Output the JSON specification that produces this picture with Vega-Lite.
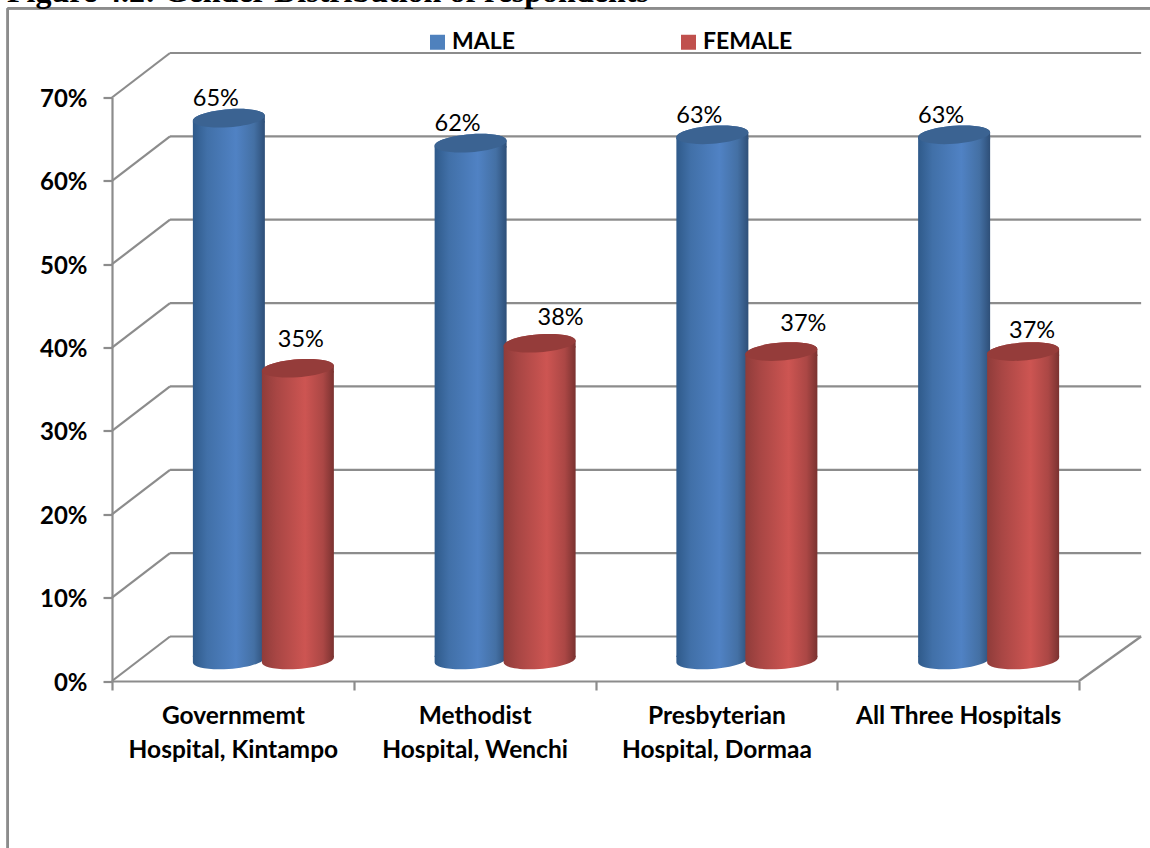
{
"$schema":"https://vega.github.io/schema/vega-lite/v6.json",
"width":967,"height":583.5,
"autosize":{"type":"none"},
"padding":{"left":112,"top":97.5,"right":71,"bottom":167},
"background":"white",
"title":{"text":"Figure 4.2: Gender Distribution of respondents","anchor":"start","frame":"group","dx":-105,"offset":-2,"font":"Liberation Serif","fontWeight":"bold","fontSize":32,"color":"#000000"},
"config":{"view":{"stroke":null}},
"datasets":{
"rows":[
{"hospital":"Governmemt Hospital, Kintampo","gender":"MALE","share":65},
{"hospital":"Governmemt Hospital, Kintampo","gender":"FEMALE","share":35},
{"hospital":"Methodist Hospital, Wenchi","gender":"MALE","share":62},
{"hospital":"Methodist Hospital, Wenchi","gender":"FEMALE","share":38},
{"hospital":"Presbyterian Hospital, Dormaa","gender":"MALE","share":63},
{"hospital":"Presbyterian Hospital, Dormaa","gender":"FEMALE","share":37},
{"hospital":"All Three Hospitals","gender":"MALE","share":63},
{"hospital":"All Three Hospitals","gender":"FEMALE","share":37}
],
"levels":[{"level":0},{"level":10},{"level":20},{"level":30},{"level":40},{"level":50},{"level":60},{"level":70}]
},
"resolve":{"scale":{"x":"independent"}},
"layer":[
{
"data":{"name":"levels"},
"encoding":{"x":{"datum":0,"type":"quantitative","scale":{"domain":[0,4],"nice":false,"zero":false},"axis":null}},
"layer":[
{"mark":{"type":"rule","stroke":"#8c8c8c","strokeWidth":2.2,"y2Offset":-44.5},
 "encoding":{"x2":{"datum":0.24},
  "y":{"field":"level","type":"quantitative","scale":{"domain":[0,70],"nice":false},
   "axis":{"title":null,"values":[0,10,20,30,40,50,60,70],"labelExpr":"datum.value+'%'","labelFont":"Lato","labelFontWeight":"bold","labelFontSize":24,"labelColor":"#000000","labelPadding":16,"labelOffset":2,"tickSize":9,"tickWidth":2.2,"tickColor":"#8c8c8c","domainColor":"#8c8c8c","domainWidth":2.2,"grid":false}},
  "y2":{"field":"level"}}},
{"mark":{"type":"rule","stroke":"#8c8c8c","strokeWidth":2.2,"yOffset":-44.5},
 "encoding":{"x":{"datum":0.24,"type":"quantitative"},"x2":{"datum":4.257},
  "y":{"field":"level","type":"quantitative","title":null}}},
{"transform":[{"filter":"datum.level===0"}],
 "mark":{"type":"rule","stroke":"#8c8c8c","strokeWidth":2.2,"y2Offset":-44.5},
 "encoding":{"x":{"datum":4,"type":"quantitative"},"x2":{"datum":4.257},
  "y":{"field":"level","type":"quantitative","title":null},"y2":{"field":"level"}}},
{"mark":{"type":"rule","stroke":"#8c8c8c","strokeWidth":2},
 "encoding":{"x":{"datum":-0.431,"type":"quantitative"},
  "y":{"datum":80.7,"type":"quantitative","title":null},"y2":{"datum":-25}}},
{"mark":{"type":"rule","stroke":"#8c8c8c","strokeWidth":2},
 "encoding":{"x":{"datum":-0.431,"type":"quantitative"},"x2":{"datum":4.35},
  "y":{"datum":80.7,"type":"quantitative","title":null}}}
]
},
{
"data":{"name":"rows"},
"encoding":{
 "x":{"field":"hospital","type":"nominal","sort":null,
  "scale":{"paddingInner":0,"paddingOuter":0},
  "axis":{"title":null,"labelAngle":0,"tickBand":"extent","tickSize":9,"tickWidth":2.2,"tickColor":"#8c8c8c","domainColor":"#8c8c8c","domainWidth":2.2,"labelFont":"Lato","labelFontWeight":"bold","labelFontSize":24.5,"labelColor":"#000000","labelPadding":14,"labelLineHeight":34,"labelLimit":300,
   "labelExpr":"indexof(datum.label,' Hospital,')>=0 ? [slice(datum.label,0,indexof(datum.label,' Hospital,')), slice(datum.label,indexof(datum.label,' Hospital,')+1)] : datum.label"}},
 "y":{"field":"share","type":"quantitative","title":null}
},
"layer":[
{"transform":[{"filter":"datum.gender==='MALE'"}],
 "layer":[
 {"mark":{"type":"bar","width":72,"xOffset":-4,"yOffset":-18,"y2Offset":-24,
   "fill":{"gradient":"linear","x1":0,"x2":1,"y1":0,"y2":0,"stops":[{"offset":0,"color":"#2f5a8a"},{"offset":0.2,"color":"#4170a8"},{"offset":0.6,"color":"#5082c4"},{"offset":0.85,"color":"#4470a4"},{"offset":1,"color":"#2e4f78"}]}},
  "encoding":{"y2":{"datum":0}}},
 {"mark":{"type":"point","filled":true,"opacity":1,"size":5184,"xOffset":-4,"yOffset":-21,
   "shape":"M1,-0.07 C1,0.068 0.552,0.211 0,0.25 C-0.552,0.289 -1,0.208 -1,0.07 L-1,-0.12 L1,-0.12 Z",
   "fill":{"gradient":"linear","x1":0,"x2":1,"y1":0,"y2":0,"stops":[{"offset":0,"color":"#2f5a8a"},{"offset":0.2,"color":"#4170a8"},{"offset":0.6,"color":"#5082c4"},{"offset":0.85,"color":"#4470a4"},{"offset":1,"color":"#2e4f78"}]}},
  "encoding":{"y":{"datum":0,"type":"quantitative","title":null}}},
 {"mark":{"type":"point","filled":true,"opacity":1,"size":5184,"xOffset":-4,"yOffset":-21,
   "shape":"M-1,0.07 C-1,-0.068 -0.552,-0.211 0,-0.25 C0.552,-0.289 1,-0.208 1,-0.07 L1,0.12 L-1,0.12 Z",
   "fill":{"gradient":"linear","x1":0,"x2":1,"y1":0,"y2":0,"stops":[{"offset":0,"color":"#2f5a8a"},{"offset":0.2,"color":"#4170a8"},{"offset":0.6,"color":"#5082c4"},{"offset":0.85,"color":"#4470a4"},{"offset":1,"color":"#2e4f78"}]}}},
 {"mark":{"type":"point","filled":true,"opacity":1,"size":5184,"xOffset":-4,"yOffset":-21,"fill":"#3b6392",
   "shape":"M1,-0.07 C1,0.068 0.552,0.211 0,0.25 C-0.552,0.289 -1,0.208 -1,0.07 C-1,-0.068 -0.552,-0.211 0,-0.25 C0.552,-0.289 1,-0.208 1,-0.07 Z"}}
 ]},
{"transform":[{"filter":"datum.gender==='FEMALE'"}],
 "layer":[
 {"mark":{"type":"bar","width":72,"xOffset":65,"yOffset":-18,"y2Offset":-24,
   "fill":{"gradient":"linear","x1":0,"x2":1,"y1":0,"y2":0,"stops":[{"offset":0,"color":"#8f3c3a"},{"offset":0.2,"color":"#a84644"},{"offset":0.6,"color":"#cd5552"},{"offset":0.85,"color":"#ab4745"},{"offset":1,"color":"#7a3230"}]}},
  "encoding":{"y2":{"datum":0}}},
 {"mark":{"type":"point","filled":true,"opacity":1,"size":5184,"xOffset":65,"yOffset":-21,
   "shape":"M1,-0.07 C1,0.068 0.552,0.211 0,0.25 C-0.552,0.289 -1,0.208 -1,0.07 L-1,-0.12 L1,-0.12 Z",
   "fill":{"gradient":"linear","x1":0,"x2":1,"y1":0,"y2":0,"stops":[{"offset":0,"color":"#8f3c3a"},{"offset":0.2,"color":"#a84644"},{"offset":0.6,"color":"#cd5552"},{"offset":0.85,"color":"#ab4745"},{"offset":1,"color":"#7a3230"}]}},
  "encoding":{"y":{"datum":0,"type":"quantitative","title":null}}},
 {"mark":{"type":"point","filled":true,"opacity":1,"size":5184,"xOffset":65,"yOffset":-21,
   "shape":"M-1,0.07 C-1,-0.068 -0.552,-0.211 0,-0.25 C0.552,-0.289 1,-0.208 1,-0.07 L1,0.12 L-1,0.12 Z",
   "fill":{"gradient":"linear","x1":0,"x2":1,"y1":0,"y2":0,"stops":[{"offset":0,"color":"#8f3c3a"},{"offset":0.2,"color":"#a84644"},{"offset":0.6,"color":"#cd5552"},{"offset":0.85,"color":"#ab4745"},{"offset":1,"color":"#7a3230"}]}}},
 {"mark":{"type":"point","filled":true,"opacity":1,"size":5184,"xOffset":65,"yOffset":-21,"fill":"#953c3a",
   "shape":"M1,-0.07 C1,0.068 0.552,0.211 0,0.25 C-0.552,0.289 -1,0.208 -1,0.07 C-1,-0.068 -0.552,-0.211 0,-0.25 C0.552,-0.289 1,-0.208 1,-0.07 Z"}}
 ]},
{"transform":[{"filter":"datum.gender==='MALE'"},{"calculate":"datum.share+'%'","as":"label"}],
 "mark":{"type":"text","font":"Lato","fontSize":23.5,"color":"#000000","dx":-17,"dy":-40},
 "encoding":{"text":{"field":"label"}}},
{"transform":[{"filter":"datum.gender==='FEMALE' && datum.hospital==='Governmemt Hospital, Kintampo'"},{"calculate":"datum.share+'%'","as":"label"}],
 "mark":{"type":"text","font":"Lato","fontSize":23.5,"color":"#000000","dx":68,"dy":-49},
 "encoding":{"text":{"field":"label"}}},
{"transform":[{"filter":"datum.gender==='FEMALE' && datum.hospital==='Methodist Hospital, Wenchi'"},{"calculate":"datum.share+'%'","as":"label"}],
 "mark":{"type":"text","font":"Lato","fontSize":23.5,"color":"#000000","dx":86,"dy":-46},
 "encoding":{"text":{"field":"label"}}},
{"transform":[{"filter":"datum.gender==='FEMALE' && datum.hospital==='Presbyterian Hospital, Dormaa'"},{"calculate":"datum.share+'%'","as":"label"}],
 "mark":{"type":"text","font":"Lato","fontSize":23.5,"color":"#000000","dx":87,"dy":-49},
 "encoding":{"text":{"field":"label"}}},
{"transform":[{"filter":"datum.gender==='FEMALE' && datum.hospital==='All Three Hospitals'"},{"calculate":"datum.share+'%'","as":"label"}],
 "mark":{"type":"text","font":"Lato","fontSize":23.5,"color":"#000000","dx":74,"dy":-42},
 "encoding":{"text":{"field":"label"}}},
{"mark":{"type":"point","filled":true,"size":0},
 "encoding":{"color":{"field":"gender","type":"nominal",
   "scale":{"domain":["MALE","FEMALE"],"range":["#4f81bd","#c0504d"]},
   "legend":{"title":null,"orient":"none","legendX":314,"legendY":-67,"direction":"horizontal","columns":2,"columnPadding":162,"symbolType":"square","symbolSize":225,"symbolOpacity":1,"symbolStrokeWidth":0,"symbolOffset":0,"labelFont":"Lato","labelFontWeight":"bold","labelFontSize":23,"labelColor":"#000000","labelOffset":3}}}}
]
}
]
}
